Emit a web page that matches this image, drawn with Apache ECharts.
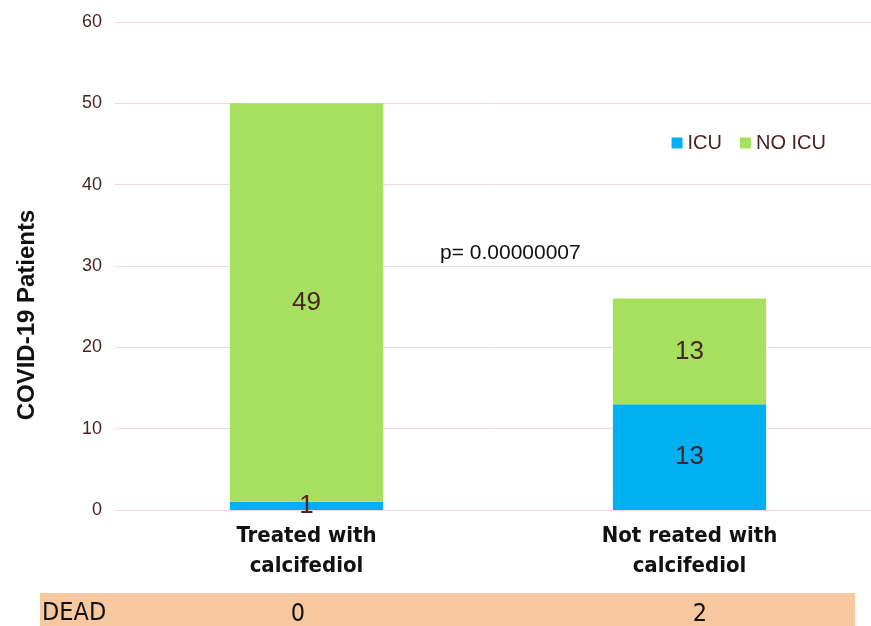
<!DOCTYPE html>
<html>
<head>
    <meta charset='utf-8'>
    <script src="https://cdn.jsdelivr.net/npm/echarts@6/dist/echarts.min.js"></script>
</head>
<body>
<style>
    html, body, #main {
        width: 100%;
        height: 100%;
        margin: 0;
        padding: 0;
        background: #fff;
    }
</style>
<div id="main"></div>
<script>
    var categories = ['Treated with\ncalcifediol', 'Not reated with\ncalcifediol'];
    var icu = [1, 13];
    var noIcu = [49, 13];
    var dead = [0, 2];

    var chart = echarts.init(document.getElementById('main'));
    var labelColor = '#4a2424';
    var narrow = '"DejaVu Sans Condensed", "Liberation Sans", sans-serif';

    chart.setOption({
        animation: false,
        grid: [
            {left: 115, width: 766, top: 22, bottom: 116, outerBoundsMode: 'none'},
            // DEAD row
            {left: 97, width: 804, top: 592, height: 1, outerBoundsMode: 'none'}
        ],
        legend: {
            right: 40, top: 128,
            itemWidth: 11, itemHeight: 11, itemGap: 18,
            icon: 'rect',
            textStyle: {fontSize: 20, color: labelColor, fontFamily: 'Liberation Sans'},
            data: ['ICU', 'NO ICU']
        },
        xAxis: [{
            type: 'category',
            data: categories,
            axisLine: {lineStyle: {color: '#f0dada'}},
            axisTick: {show: false},
            axisLabel: {
                fontSize: 22, fontWeight: 'bold', color: '#111', lineHeight: 30,
                fontFamily: narrow, margin: 11
            }
        }, {
            type: 'category',
            gridIndex: 1,
            data: dead,
            axisLine: {show: false},
            axisTick: {show: false},
            axisLabel: {fontSize: 25, color: '#111', fontFamily: narrow, margin: 9}
        }],
        yAxis: [{
            type: 'value',
            min: 0, max: 60, interval: 10,
            axisLine: {show: false},
            axisTick: {show: false},
            axisLabel: {fontSize: 18, color: labelColor, margin: 13, fontFamily: 'Liberation Sans'},
            splitLine: {lineStyle: {color: '#f0dada'}}
        }, {
            type: 'value',
            gridIndex: 1,
            show: false
        }],
        series: [{
            name: 'ICU',
            type: 'bar',
            stack: 'a',
            barWidth: '40%',
            data: icu,
            itemStyle: {color: '#00b0f0'},
            label: {show: true, position: 'inside', fontSize: 26, color: labelColor, fontFamily: 'Liberation Sans'}
        }, {
            name: 'NO ICU',
            type: 'bar',
            stack: 'a',
            data: noIcu,
            itemStyle: {color: '#a6e05e'},
            label: {show: true, position: 'inside', fontSize: 26, color: labelColor, fontFamily: 'Liberation Sans'}
        }],
        graphic: [{
            type: 'rect', z: -1,
            shape: {x: 40, y: 593, width: 815, height: 40},
            style: {fill: '#f8c8a0'}
        }, {
            type: 'text', left: 42, top: 601,
            style: {text: 'DEAD', fontSize: 25, fill: '#111', fontFamily: narrow}
        }, {
            type: 'text', left: 440, top: 243,
            style: {text: 'p= 0.00000007', fontSize: 21, fill: '#111', fontFamily: 'Liberation Sans'}
        }, {
            type: 'text', x: 27, y: 315, rotation: Math.PI / 2,
            style: {
                text: 'COVID-19 Patients', fontSize: 24, fontWeight: 'bold', fill: '#111',
                fontFamily: 'Liberation Sans', align: 'center', verticalAlign: 'middle'
            }
        }]
    });
</script>
</body>
</html>
